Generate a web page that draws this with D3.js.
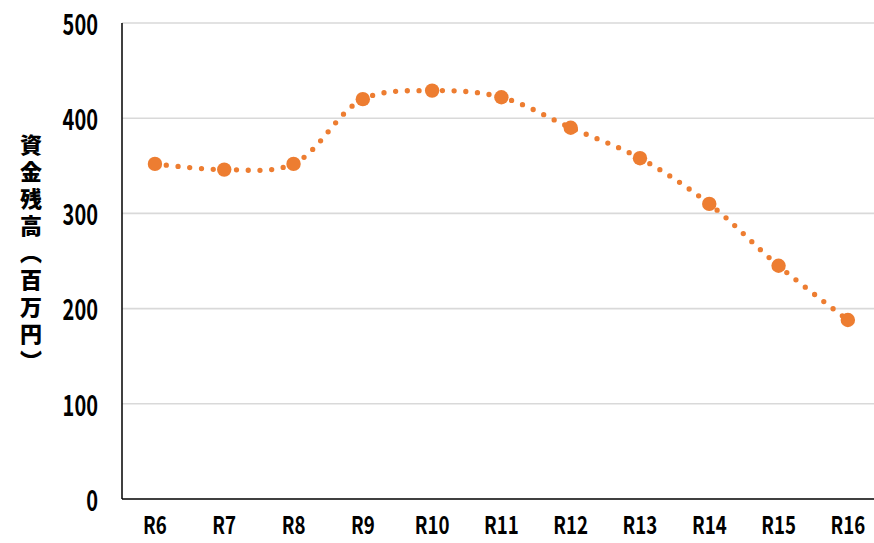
<!DOCTYPE html>
<html><head><meta charset="utf-8">
<script src="https://cdn.jsdelivr.net/npm/d3@7"></script>
<style>html,body{margin:0;padding:0;background:#fff;}svg{display:block;}</style>
</head><body>
<svg id="c" width="874" height="543"></svg>
<script>
const categories = ["R6","R7","R8","R9","R10","R11","R12","R13","R14","R15","R16"];
const values = [352, 346, 352, 420, 429, 422, 390, 358, 310, 245, 188];
const yTicks = [0, 100, 200, 300, 400, 500];
const yLabel = "資金残高（百万円）";

const svg = d3.select("#c");
const mLeft = 122, mTop = 23, mBottom = 499;
const x = d3.scaleBand().domain(categories).range([120.3, 882.5]);
const y = d3.scaleLinear().domain([0, 500]).range([mBottom, mTop]);
const font = "'Noto Sans CJK JP','Noto Sans',sans-serif";

// gridlines
svg.append("g").selectAll("line").data(yTicks.filter(d => d > 0)).join("line")
  .attr("x1", mLeft).attr("x2", 874)
  .attr("y1", d => y(d)).attr("y2", d => y(d))
  .attr("stroke", "#d9d9d9").attr("stroke-width", 1.6);

// y axis
const ya = svg.append("g").attr("transform", `translate(${mLeft},0)`)
  .call(d3.axisLeft(y).tickValues(yTicks).tickSize(0).tickPadding(0));
ya.select(".domain").attr("stroke", "#000").attr("stroke-width", 1.5).attr("d", `M0,${mTop}V${mBottom}`);
ya.selectAll(".tick text").attr("font-family", font).attr("font-weight", "bold")
  .attr("font-size", 25).attr("fill", "#000").attr("text-anchor", "end")
  .attr("x", 0).attr("dy", "0.36em")
  .attr("transform", "translate(-24,1) scale(0.8,1.15)");

// x axis
const xa = svg.append("g").attr("transform", `translate(0,${mBottom})`)
  .call(d3.axisBottom(x).tickSize(0).tickPadding(0));
xa.select(".domain").attr("stroke", "#000").attr("stroke-width", 1.5).attr("d", `M${mLeft},0H874`);
xa.selectAll(".tick text").attr("font-family", font).attr("font-weight", "bold")
  .attr("font-size", 22).attr("fill", "#000").attr("y", 0).attr("dy", 0)
  .attr("transform", "translate(0,35) scale(0.85,1.12)");

// line
const pts = categories.map((c, i) => [x(c) + x.bandwidth()/2, y(values[i])]);
svg.append("path").attr("d", d3.line().curve(d3.curveCatmullRom.alpha(0.5))(pts))
  .attr("fill", "none").attr("stroke", "#ED7D31").attr("stroke-width", 5.3)
  .attr("stroke-linecap", "round").attr("stroke-dasharray", "0,11.7");

svg.append("g").selectAll("circle").data(pts).join("circle")
  .attr("cx", d => d[0]).attr("cy", d => d[1]).attr("r", 7.2).attr("fill", "#ED7D31");

// y label vertical
svg.append("text").attr("x", 31).attr("y", 134)
  .attr("font-family", font).attr("font-weight", "900").attr("font-size", 22)
  .attr("fill", "#000")
  .style("writing-mode", "vertical-rl").style("text-orientation", "upright")
  .attr("letter-spacing", 5)
  .text(yLabel);
</script>
</body></html>
